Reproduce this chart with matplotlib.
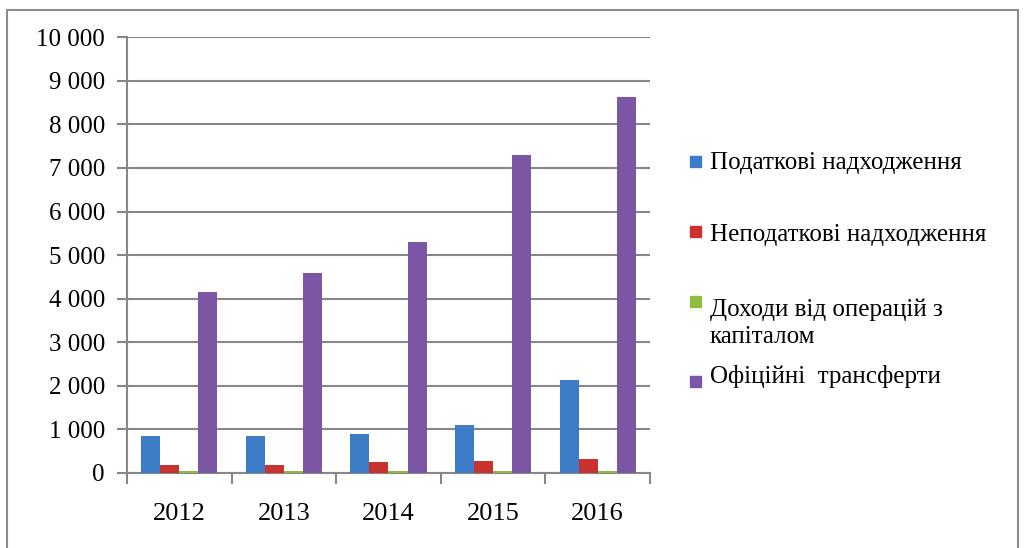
import numpy as np
import matplotlib.pyplot as plt
from matplotlib.patches import Rectangle

plt.rcParams["font.family"] = ["Liberation Serif", "DejaVu Serif"]

years = ["2012", "2013", "2014", "2015", "2016"]
tax = [850, 850, 900, 1110, 2130]
nontax = [180, 180, 240, 280, 320]
capital = [50, 50, 50, 50, 50]
transfers = [4150, 4600, 5300, 7290, 8620]

labels = ["Податкові надходження", "Неподаткові надходження",
          "Доходи від операцій з\nкапіталом", "Офіційні  трансферти"]
colors = ["#3d7cc6", "#c9332f", "#8fbb3e", "#7a56a5"]

W, H = 1025, 548
fig = plt.figure(figsize=(W / 100, H / 100), dpi=100)
ax = fig.add_axes([0.124, 0.137, 0.51, 0.795])

# рамка навколо всієї діаграми
fig.add_artist(Rectangle((0.007, -0.05), 0.986, 1.032, transform=fig.transFigure,
                         fill=False, edgecolor="#8c8c8c", linewidth=1.5))

x = np.arange(len(years))
w = 0.182
series = [tax, nontax, capital, transfers]
for i, (vals, lab, col) in enumerate(zip(series, labels, colors)):
    ax.bar(x + (i - 1.5) * w, vals, w, color=col, label=lab, zorder=3)

ax.set_xlim(-0.5, len(years) - 0.5)
ax.set_ylim(0, 10000)
ax.set_yticks(np.arange(0, 10001, 1000))
ax.set_yticklabels(["{:,}".format(v).replace(",", " ") for v in range(0, 10001, 1000)])
ax.set_xticks(x)
ax.set_xticklabels(years)
ax.set_xticks(np.arange(-0.5, len(years), 1), minor=True)

ax.grid(axis="y", color="#878787", linewidth=1.5, zorder=0)
for s in ["top", "right"]:
    ax.spines[s].set_visible(False)
for s in ["left", "bottom"]:
    ax.spines[s].set_color("#878787")
    ax.spines[s].set_linewidth(1.5)

ax.tick_params(axis="y", length=7, width=1.5, color="#878787", labelsize=18, pad=9)
ax.tick_params(axis="x", which="major", length=0, labelsize=19, pad=22)
ax.tick_params(axis="x", which="minor", length=8, width=1.5, color="#878787")

# легенда: базові лінії тексту та верх квадратів у пікселях
text_base = [169, 241, 316, 383]
box_top = [156, 226, 296, 376]
for lab, col, yb, yt in zip(labels, colors, text_base, box_top):
    fig.add_artist(Rectangle((690 / W, 1 - (yt + 11) / H), 11 / W, 11 / H,
                             transform=fig.transFigure, color=col))
    lines = lab.split("\n")
    for k, line in enumerate(lines):
        fig.text(710 / W, 1 - (yb + 27 * k) / H, line, fontsize=18,
                 va="baseline", ha="left")

plt.savefig("out.png", dpi=100)
